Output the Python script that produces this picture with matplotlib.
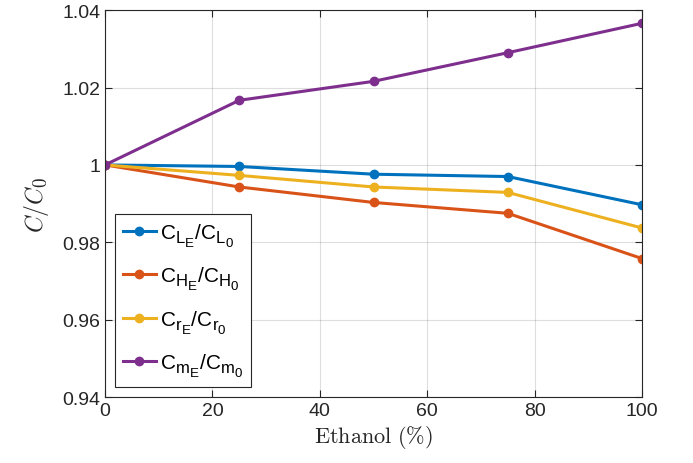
import numpy as np
import matplotlib
matplotlib.use("Agg")
import matplotlib.pyplot as plt
import matplotlib._mathtext as mt
from matplotlib.font_manager import FontProperties

# ethanol content and normalised coefficients
ethanol = [0, 25, 50, 75, 100]
c_lift = [1.0, 0.9996, 0.9976, 0.9970, 0.9897]
c_heave = [1.0, 0.9943, 0.9903, 0.9875, 0.9758]
c_roll = [1.0, 0.9973, 0.9943, 0.9929, 0.9837]
c_moment = [1.0, 1.0167, 1.0216, 1.0290, 1.0366]

labels = [r"$\mathrm{C_{L_E}/C_{L_0}}$",
          r"$\mathrm{C_{H_E}/C_{H_0}}$",
          r"$\mathrm{C_{r_E}/C_{r_0}}$",
          r"$\mathrm{C_{m_E}/C_{m_0}}$"]
colors = ["#0072BD", "#D95319", "#EDB120", "#7E2F8E"]

# larger, lower subscripts (tex-interpreter look)
mt.SHRINK_FACTOR = 0.8
mt.FontConstantsBase.sub1 = 0.45

plt.rcParams["font.family"] = "Liberation Sans"
plt.rcParams["mathtext.fontset"] = "custom"
plt.rcParams["mathtext.rm"] = "Liberation Sans"
plt.rcParams["mathtext.it"] = "Liberation Sans:italic"

axcol = (0.15, 0.15, 0.15)

fig = plt.figure(figsize=(6.93, 4.64), dpi=100)
ax = fig.add_axes([0.1515, 0.142, 0.775, 0.834])

for vals, lab, col in zip([c_lift, c_heave, c_roll, c_moment], labels, colors):
    ax.plot(ethanol, vals, "-o", color=col, lw=2.2, ms=6, label=lab)

ax.set_xlim(0, 100)
ax.set_ylim(0.94, 1.04)
ax.set_xticks(np.arange(0, 101, 20))
ax.set_yticks([0.94, 0.96, 0.98, 1.0, 1.02, 1.04])
ax.set_yticklabels(["0.94", "0.96", "0.98", "1", "1.02", "1.04"])
ax.grid(True, color="0.15", alpha=0.15, lw=0.8)
ax.tick_params(direction="in", top=True, right=True, labelsize=14,
               colors=axcol, length=5, width=0.8)
for sp in ax.spines.values():
    sp.set_color(axcol)
    sp.set_linewidth(0.8)

ax.set_xlabel(r"$\mathrm{Ethanol\ (\%)}$", fontsize=16, color=axcol,
              math_fontfamily="cm", labelpad=3)
ax.set_ylabel(r"$C/C_0$", fontsize=17, color=axcol,
              math_fontfamily="cm", labelpad=8)

leg = ax.legend(loc="lower left", prop=FontProperties(family="Liberation Sans", size=15),
                handlelength=1.6, handletextpad=0.2, labelspacing=0.75,
                borderpad=0.35, borderaxespad=0.5, fancybox=False,
                framealpha=1, edgecolor=axcol)
leg.get_frame().set_linewidth(0.8)

fig.savefig("out.png", dpi=100)
